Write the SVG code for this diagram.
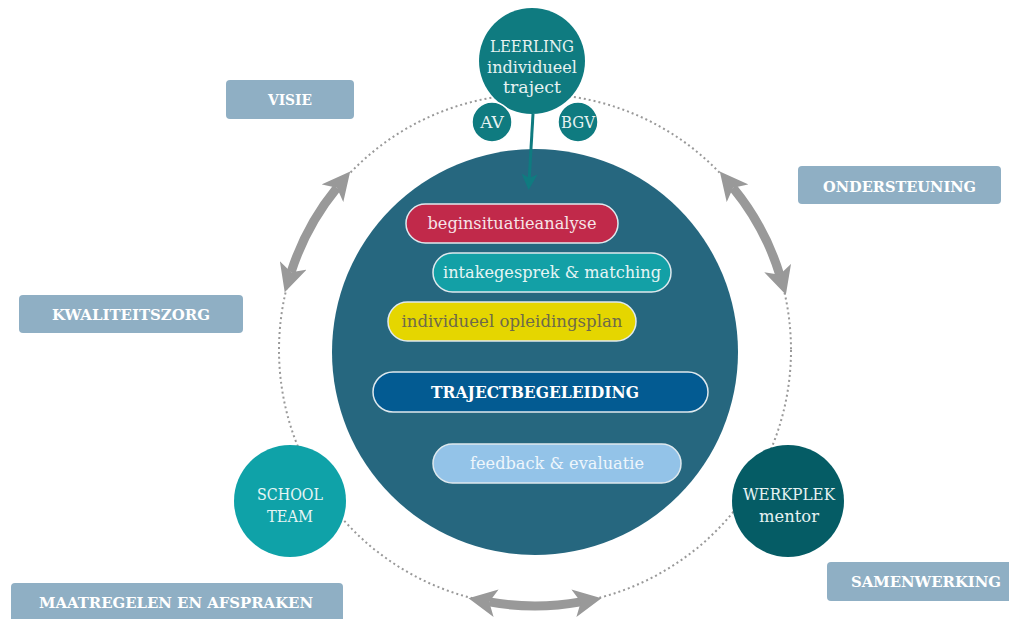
<svg xmlns="http://www.w3.org/2000/svg" width="1009" height="619" viewBox="0 0 1009 619">
  <defs>
    <style>
      .lbl rect { fill: #8fafc4; }
      .lbl text { font-family: "DejaVu Serif", "Liberation Serif", serif; font-weight: bold; font-size: 15px; fill: #ffffff; text-anchor: middle; }
      .pill rect { stroke: #dfe9ee; stroke-width: 1.5; }
      .pill text { font-family: "DejaVu Serif", "Liberation Serif", serif; font-size: 17px; text-anchor: middle; }
      .ctext { font-family: "DejaVu Serif", "Liberation Serif", serif; font-size: 17px; text-anchor: middle; }
      .garc { fill: none; stroke: #999999; stroke-width: 9; marker-start: url(#gh); marker-end: url(#gh); }
    </style>
    <marker id="gh" markerUnits="userSpaceOnUse" markerWidth="28" markerHeight="28" viewBox="0 0 28 28" refX="7" refY="14" orient="auto-start-reverse">
      <path d="M0,0 L28,14 L0,28 L7,14 z" fill="#999999"/>
    </marker>
    <marker id="th" markerUnits="userSpaceOnUse" markerWidth="16" markerHeight="16" viewBox="0 0 16 16" refX="4" refY="8" orient="auto">
      <path d="M0,0 L16,8 L0,16 L4,8 z" fill="#0f7b80"/>
    </marker>
  </defs>
  <rect width="1009" height="619" fill="#ffffff"/>

  <g id="connectors">
    <circle cx="535" cy="350" r="256" fill="none" stroke="#999999" stroke-width="2" stroke-dasharray="2 3"/>
    <path class="garc" d="M291.1,272.2 A256,256 0 0 1 336.9,187.8"/>
    <path class="garc" d="M733.1,187.8 A256,256 0 0 1 779.7,274.7"/>
    <path class="garc" d="M580.8,601.9 A256,256 0 0 1 489.2,601.9"/>
  </g>

  <g id="core">
    <circle cx="535" cy="352" r="203" fill="#26677f"/>
  </g>

  <g id="leerling">
    <circle cx="532" cy="61" r="53" fill="#0f7b80"/>
    <text class="ctext" x="532" y="52" fill="#e6f2f2" textLength="84" lengthAdjust="spacingAndGlyphs">LEERLING</text>
    <text class="ctext" x="532" y="73" fill="#e6f2f2" textLength="90" lengthAdjust="spacingAndGlyphs">individueel</text>
    <text class="ctext" x="532" y="93" fill="#e6f2f2" textLength="58" lengthAdjust="spacingAndGlyphs">traject</text>
  </g>
  <g id="av">
    <circle cx="492" cy="122" r="20" fill="#0f7b80" stroke="#ffffff" stroke-width="1.5"/>
    <text class="ctext" x="492" y="128" font-size="16" fill="#e6f2f2">AV</text>
  </g>
  <g id="bgv">
    <circle cx="578" cy="122" r="20" fill="#0f7b80" stroke="#ffffff" stroke-width="1.5"/>
    <text class="ctext" x="578" y="128" font-size="16" fill="#e6f2f2" textLength="34" lengthAdjust="spacingAndGlyphs">BGV</text>
  </g>
  <g id="leerling-arrow">
    <line x1="533" y1="114" x2="529.3" y2="178" stroke="#0f7b80" stroke-width="3" marker-end="url(#th)"/>
  </g>

  <g id="begin" class="pill">
    <rect x="406" y="204" width="212" height="39" rx="19.5" fill="#c1294a"/>
    <text x="512" y="229" fill="#f6e4e8" textLength="169" lengthAdjust="spacingAndGlyphs">beginsituatieanalyse</text>
  </g>
  <g id="intake" class="pill">
    <rect x="433" y="253" width="238" height="39" rx="19.5" fill="#13a0a6"/>
    <text x="552" y="278" fill="#e6f5f5" textLength="218" lengthAdjust="spacingAndGlyphs">intakegesprek &amp; matching</text>
  </g>
  <g id="iop" class="pill">
    <rect x="388" y="302" width="248" height="39" rx="19.5" fill="#e5d600"/>
    <text x="512" y="327" fill="#6e6a4a" textLength="221" lengthAdjust="spacingAndGlyphs">individueel opleidingsplan</text>
  </g>
  <g id="traject" class="pill">
    <rect x="373" y="372" width="335" height="40" rx="20" fill="#035b92"/>
    <text x="535" y="398" fill="#ffffff" font-weight="bold" font-size="16" textLength="208" lengthAdjust="spacingAndGlyphs">TRAJECTBEGELEIDING</text>
  </g>
  <g id="feedback" class="pill">
    <rect x="433" y="444" width="248" height="39" rx="19.5" fill="#93c3e8"/>
    <text x="557" y="469" fill="#eef6fc" textLength="174" lengthAdjust="spacingAndGlyphs">feedback &amp; evaluatie</text>
  </g>

  <g id="school">
    <circle cx="290" cy="501" r="56" fill="#0fa2a8"/>
    <text class="ctext" x="290" y="500" fill="#e6f5f5" textLength="66" lengthAdjust="spacingAndGlyphs">SCHOOL</text>
    <text class="ctext" x="290" y="522" fill="#e6f5f5" textLength="46" lengthAdjust="spacingAndGlyphs">TEAM</text>
  </g>
  <g id="werkplek">
    <circle cx="788" cy="501" r="56" fill="#055c65"/>
    <text class="ctext" x="789" y="500" fill="#e6f2f2" textLength="92" lengthAdjust="spacingAndGlyphs">WERKPLEK</text>
    <text class="ctext" x="789" y="522" fill="#e6f2f2" textLength="60" lengthAdjust="spacingAndGlyphs">mentor</text>
  </g>

  <g id="visie" class="lbl">
    <rect x="226" y="80" width="128" height="39" rx="4"/>
    <text x="290" y="105" textLength="44" lengthAdjust="spacingAndGlyphs">VISIE</text>
  </g>
  <g id="ondersteuning" class="lbl">
    <rect x="798" y="166" width="203" height="38" rx="4"/>
    <text x="899.5" y="192" textLength="153" lengthAdjust="spacingAndGlyphs">ONDERSTEUNING</text>
  </g>
  <g id="kwaliteitszorg" class="lbl">
    <rect x="19" y="295" width="224" height="38" rx="4"/>
    <text x="131" y="320" textLength="158" lengthAdjust="spacingAndGlyphs">KWALITEITSZORG</text>
  </g>
  <g id="maatregelen" class="lbl">
    <rect x="11" y="583" width="332" height="42" rx="4"/>
    <text x="176" y="608" textLength="274" lengthAdjust="spacingAndGlyphs">MAATREGELEN EN AFSPRAKEN</text>
  </g>
  <g id="samenwerking" class="lbl">
    <rect x="827" y="562" width="192" height="39" rx="4"/>
    <text x="926" y="587" textLength="150" lengthAdjust="spacingAndGlyphs">SAMENWERKING</text>
  </g>
</svg>
